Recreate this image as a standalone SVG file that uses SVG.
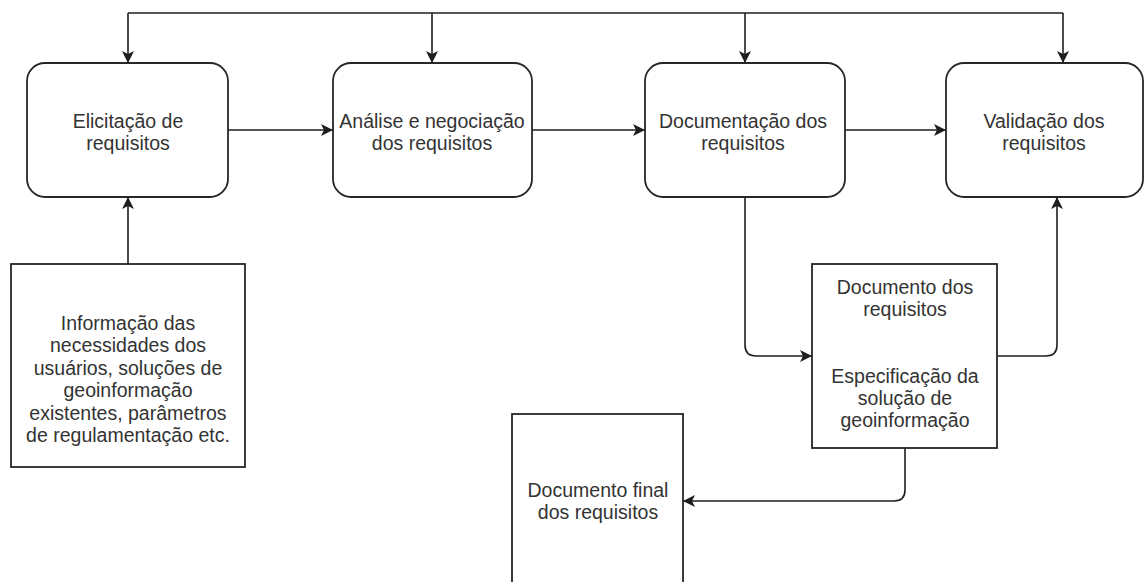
<svg xmlns="http://www.w3.org/2000/svg" width="1145" height="582" viewBox="0 0 1145 582">
  <defs>
    <marker id="arrow" markerUnits="userSpaceOnUse" markerWidth="13" markerHeight="12" refX="12" refY="6" orient="auto">
      <path d="M0,0 L12,6 L0,12 L3,6 Z" fill="#1e1e1e"/>
    </marker>
    <style>
      .step { fill: #ffffff; stroke: #262626; stroke-width: 1.8; }
      .doc { fill: #ffffff; stroke: #262626; stroke-width: 1.8; }
      .label { font-family: "Liberation Sans", Arial, sans-serif; font-size: 19.5px; fill: #333333; text-anchor: middle; }
      .wire { fill: none; stroke: #1e1e1e; stroke-width: 1.6; }
      .wire.arrowed { marker-end: url(#arrow); }
    </style>
  </defs>

  <rect width="1145" height="582" fill="#ffffff"/>

  <!-- connectors -->
  <g id="connectors">
    <!-- feedback bus along the top, feeding every stage -->
    <path class="wire" d="M128,13 H1063"/>
    <path class="wire arrowed" d="M128,13 V63"/>
    <path class="wire arrowed" d="M432,13 V63"/>
    <path class="wire arrowed" d="M745,13 V63"/>
    <path class="wire arrowed" d="M1063,13 V63"/>
    <!-- stage to stage -->
    <path class="wire arrowed" d="M228,130 H333"/>
    <path class="wire arrowed" d="M532,130 H645"/>
    <path class="wire arrowed" d="M845,130 H946"/>
    <!-- input information into elicitation -->
    <path class="wire arrowed" d="M128,264 V197"/>
    <!-- documentation produces the requirements document -->
    <path class="wire arrowed" d="M745,197 V345 Q745,356 756,356 H812"/>
    <!-- requirements document goes to validation -->
    <path class="wire arrowed" d="M997,356 H1046 Q1057,356 1057,345 V197"/>
    <!-- requirements document becomes the final document -->
    <path class="wire arrowed" d="M905,448 V490 Q905,501 894,501 H683"/>
  </g>

  <g id="elicitacao">
    <rect class="step" x="27" y="63" width="201" height="134" rx="18" ry="18"/>
    <text class="label" x="128" y="128">Elicitação de</text>
    <text class="label" x="128" y="150">requisitos</text>
  </g>

  <g id="analise">
    <rect class="step" x="333" y="63" width="199" height="134" rx="18" ry="18"/>
    <text class="label" x="432" y="128">Análise e negociação</text>
    <text class="label" x="432" y="150">dos requisitos</text>
  </g>

  <g id="documentacao">
    <rect class="step" x="645" y="63" width="200" height="134" rx="18" ry="18"/>
    <text class="label" x="743" y="128">Documentação dos</text>
    <text class="label" x="743" y="150">requisitos</text>
  </g>

  <g id="validacao">
    <rect class="step" x="946" y="63" width="197" height="134" rx="18" ry="18"/>
    <text class="label" x="1044" y="128">Validação dos</text>
    <text class="label" x="1044" y="150">requisitos</text>
  </g>

  <g id="informacao">
    <rect class="doc" x="11" y="264" width="234" height="203"/>
    <text class="label" x="128" y="330">Informação das</text>
    <text class="label" x="128" y="352">necessidades dos</text>
    <text class="label" x="128" y="375">usuários, soluções de</text>
    <text class="label" x="128" y="397">geoinformação</text>
    <text class="label" x="128" y="420">existentes, parâmetros</text>
    <text class="label" x="128" y="442">de regulamentação etc.</text>
  </g>

  <g id="documento-requisitos">
    <rect class="doc" x="812" y="264" width="185" height="184"/>
    <text class="label" x="905" y="294">Documento dos</text>
    <text class="label" x="905" y="316">requisitos</text>
    <text class="label" x="905" y="383">Especificação da</text>
    <text class="label" x="905" y="405">solução de</text>
    <text class="label" x="905" y="427">geoinformação</text>
  </g>

  <g id="documento-final">
    <rect class="doc" x="512" y="414" width="171" height="190"/>
    <text class="label" x="598" y="497">Documento final</text>
    <text class="label" x="598" y="519">dos requisitos</text>
  </g>
</svg>
